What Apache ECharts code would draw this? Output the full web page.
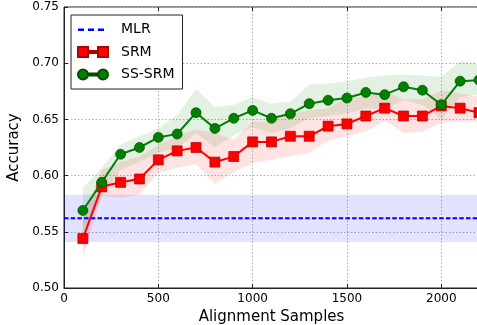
<!DOCTYPE html>
<html>
<head>
<meta charset="utf-8">
<script src="https://cdn.jsdelivr.net/npm/echarts@6/dist/echarts.min.js"></script>
<style>
html,body{margin:0;padding:0;background:#fff;}
#chart{width:477px;height:325px;}
</style>
</head>
<body>
<div id="chart"></div>
<script>
// ---- data ----
var samples = [100,200,300,400,500,600,700,800,900,1000,1100,1200,1300,1400,1500,1600,1700,1800,1900,2000,2100,2200];

var srmMean  = [0.544,0.590,0.594,0.597,0.614,0.622,0.625,0.612,0.617,0.630,0.630,0.635,0.635,0.644,0.646,0.653,0.660,0.653,0.653,0.662,0.660,0.656];
var srmLower = [0.527,0.582,0.580,0.583,0.602,0.607,0.610,0.593,0.603,0.611,0.614,0.617,0.620,0.631,0.635,0.639,0.649,0.638,0.639,0.647,0.648,0.648];
var srmUpper = [0.562,0.605,0.612,0.617,0.627,0.635,0.641,0.638,0.632,0.648,0.648,0.655,0.658,0.660,0.669,0.670,0.675,0.668,0.668,0.676,0.673,0.670];

var ssMean  = [0.569,0.594,0.619,0.625,0.634,0.637,0.656,0.642,0.651,0.658,0.651,0.655,0.664,0.667,0.669,0.674,0.672,0.679,0.676,0.663,0.684,0.685];
var ssLower = [0.550,0.580,0.605,0.612,0.620,0.624,0.638,0.625,0.636,0.643,0.638,0.642,0.651,0.653,0.655,0.660,0.659,0.667,0.663,0.650,0.670,0.672];
var ssUpper = [0.589,0.607,0.628,0.635,0.642,0.654,0.677,0.661,0.663,0.670,0.664,0.666,0.681,0.682,0.684,0.687,0.689,0.690,0.689,0.688,0.702,0.700];

var mlrMean = 0.562;
var mlrLower = 0.541;
var mlrUpper = 0.583;
var mlrRange = [0, 2200];

var xTicks = [0, 500, 1000, 1500, 2000];
var yTicks = [0.50, 0.55, 0.60, 0.65, 0.70, 0.75];

// ---- helpers ----
function pairs(xs, ys){ return xs.map(function(x,i){ return [x, ys[i]]; }); }
function bandSeries(xs, lo, hi, fill, z){
  return {
    type: 'custom', name: '_band', silent: true, z: z, clip: true,
    data: [[xs[0], lo[0]]],
    renderItem: function(params, api){
      var pts = [];
      for (var i = 0; i < xs.length; i++) pts.push(api.coord([xs[i], hi[i]]));
      for (var j = xs.length - 1; j >= 0; j--) pts.push(api.coord([xs[j], lo[j]]));
      return { type: 'polygon', shape: { points: pts }, style: { fill: fill } };
    }
  };
}

var FONT = 'DejaVu Sans';
var chart = echarts.init(document.getElementById('chart'), null, {renderer: 'canvas'});

var sqIcon = 'path://M0,0h10v10h-10z M10,4h10v2h-10z M20,0h10v10h-10z';
var ciIcon = 'path://M0,5a5,5 0 1,0 10,0a5,5 0 1,0 -10,0z M10,4h10v2h-10z M20,5a5,5 0 1,0 10,0a5,5 0 1,0 -10,0z';
var dashIcon = 'path://M0,4h6v2.4h-6z M10,4h6v2.4h-6z M20,4h6v2.4h-6z M30,4h0.01v0.01h-0.01z M0,0h0.01v0.01h-0.01z M0,10h0.01v0.01h-0.01z';

var option = {
  animation: false,
  backgroundColor: '#fff',
  textStyle: { fontFamily: FONT },
  grid: { left: 64, top: 7, right: -2, bottom: 37, show: true, borderColor: '#222', borderWidth: 1,
    backgroundColor: 'transparent', containLabel: false, outerBoundsMode: 'none' },
  legend: {
    orient: 'vertical', left: 71, top: 15,
    itemWidth: 30, itemHeight: 10, itemGap: 7.5,
    padding: [7, 8, 7, 6],
    borderColor: '#222', borderWidth: 1, borderRadius: 0,
    backgroundColor: '#fff',
    textStyle: { fontFamily: FONT, fontSize: 14, color: '#000', lineHeight: 15, padding: [0,0,0,8] },
    data: [
      { name: 'MLR', icon: dashIcon },
      { name: 'SRM', icon: sqIcon },
      { name: 'SS-SRM', icon: ciIcon }
    ]
  },
  xAxis: [{
    type: 'value', min: 0, max: 2200, interval: 500,
    name: 'Alignment Samples', nameLocation: 'middle', nameGap: 20,
    nameTextStyle: { fontFamily: FONT, fontSize: 15, color: '#000' },
    axisLine: { show: true, lineStyle: { color: '#222', width: 1 } },
    axisTick: { show: true, inside: true, length: 4, lineStyle: { color: '#222' } },
    axisLabel: { fontFamily: FONT, fontSize: 12, color: '#000', margin: 5, showMaxLabel: false,
      formatter: function(v){ return xTicks.indexOf(v) >= 0 ? String(v) : ''; } },
    splitLine: { show: true, lineStyle: { color: '#b0b0b0', type: [1.5, 2], width: 1 } }
  }, {
    type: 'value', min: 0, max: 2200, interval: 500, position: 'top',
    axisLine: { show: false }, axisLabel: { show: false }, splitLine: { show: false },
    axisTick: { show: true, inside: true, length: 4, lineStyle: { color: '#222' } }
  }],
  yAxis: {
    type: 'value', min: 0.5, max: 0.75, interval: 0.05,
    name: 'Accuracy', nameLocation: 'middle', nameGap: 31,
    nameTextStyle: { fontFamily: FONT, fontSize: 15, color: '#000' },
    axisLine: { show: true, lineStyle: { color: '#222', width: 1 } },
    axisTick: { show: true, inside: true, length: 4, lineStyle: { color: '#222' } },
    axisLabel: { fontFamily: FONT, fontSize: 12, color: '#000', margin: 5,
      formatter: function(v){ return v.toFixed(2); } },
    splitLine: { show: true, lineStyle: { color: '#b0b0b0', type: [1.5, 2], width: 1 } }
  },
  series: [
    bandSeries(mlrRange, [mlrLower, mlrLower], [mlrUpper, mlrUpper], 'rgba(0,0,255,0.11)', 1),
    bandSeries(samples, srmLower, srmUpper, 'rgba(255,0,0,0.11)', 1),
    bandSeries(samples, ssLower, ssUpper, 'rgba(0,128,0,0.11)', 1),
    {
      name: 'MLR', type: 'line', z: 3, symbol: 'none',
      data: pairs(mlrRange, [mlrMean, mlrMean]),
      lineStyle: { color: '#0000ff', width: 2, type: [4.5, 2.2] },
      itemStyle: { color: '#0000ff' }
    },
    {
      name: 'SRM', type: 'line', z: 4, symbol: 'rect', symbolSize: 10,
      data: pairs(samples, srmMean),
      lineStyle: { color: '#ff0000', width: 2 },
      itemStyle: { color: '#ff0000', borderColor: '#b00000', borderWidth: 0.7 }
    },
    {
      name: 'SS-SRM', type: 'line', z: 5, symbol: 'circle', symbolSize: 10,
      data: pairs(samples, ssMean),
      lineStyle: { color: '#008000', width: 2 },
      itemStyle: { color: '#008000', borderColor: '#004d00', borderWidth: 0.7 }
    }
  ]
};
chart.setOption(option);
</script>
</body>
</html>
